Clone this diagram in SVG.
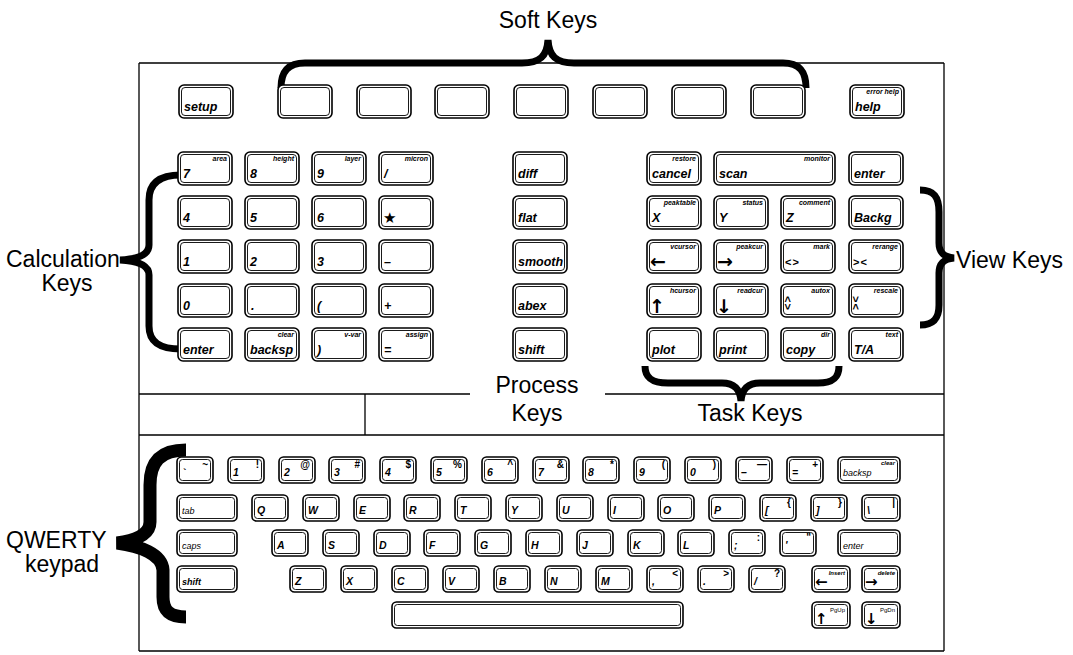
<svg xmlns="http://www.w3.org/2000/svg" xmlns:xlink="http://www.w3.org/1999/xlink" width="1073" height="655" viewBox="0 0 1073 655">
<style>
.o{fill:#fff;stroke:#000;stroke-width:1.6}
.i{fill:none;stroke:#000;stroke-width:0.9}
.fr{fill:none;stroke:#000;stroke-width:1.3}
.br{fill:none;stroke:#000;stroke-width:7;stroke-linecap:butt}
.brq{fill:none;stroke:#000;stroke-width:13;stroke-linecap:butt}
.lbl{font-family:'Liberation Sans',Arial,sans-serif;font-size:23px;fill:#000}
.m{font-family:'Liberation Sans Narrow','Liberation Sans',Arial,sans-serif;font-style:italic;font-weight:bold;font-size:12.5px;fill:#000}
.s{font-family:'Liberation Sans Narrow','Liberation Sans',Arial,sans-serif;font-style:italic;font-weight:bold;font-size:7px;text-anchor:end;fill:#000}
.ar{font-family:'DejaVu Sans',sans-serif;font-weight:bold;font-size:19px;fill:#000}
.ch{font-family:'Liberation Sans',Arial,sans-serif;font-weight:bold;font-size:11px;fill:#000}
.q{font-family:'Liberation Sans',Arial,sans-serif;font-style:italic;font-weight:bold;font-size:10.5px;fill:#000}
.qu{font-family:'Liberation Sans',Arial,sans-serif;font-weight:bold;font-size:10px;text-anchor:end;fill:#000}
.qw{font-family:'Liberation Sans',Arial,sans-serif;font-style:italic;font-size:9px;fill:#000}
.qwb{font-family:'Liberation Sans',Arial,sans-serif;font-style:italic;font-weight:bold;font-size:9px;fill:#000}
.qs{font-family:'Liberation Sans',Arial,sans-serif;font-style:italic;font-weight:bold;font-size:6px;text-anchor:end;fill:#000}
.qa{font-family:'DejaVu Sans',sans-serif;font-weight:bold;font-size:15px;fill:#000}
</style>
<defs>
<g id="kL"><rect class="o" x="0" y="0" width="54" height="33" rx="5"/><rect class="i" x="2.5" y="2.5" width="49" height="28" rx="3.5"/></g>
<g id="kS"><rect class="o" x="0" y="0" width="36" height="26" rx="4.5"/><rect class="i" x="2.5" y="2.5" width="31" height="21" rx="3"/></g>
<g id="kM"><rect class="o" x="0" y="0" width="38" height="26" rx="4.5"/><rect class="i" x="2.5" y="2.5" width="33" height="21" rx="3"/></g>
<g id="kW"><rect class="o" x="0" y="0" width="60" height="26" rx="4.5"/><rect class="i" x="2.5" y="2.5" width="55" height="21" rx="3"/></g>
<g id="kB"><rect class="o" x="0" y="0" width="62" height="26" rx="4.5"/><rect class="i" x="2.5" y="2.5" width="57" height="21" rx="3"/></g>
</defs>
<rect x="0" y="0" width="1073" height="655" fill="#fff"/>

<g id="frame">
<path class="fr" d="M139 63 H944 M139 63 V651 M944 63 V651 M139 651 H944 M139 394 H470 M605 394 H944 M139 435 H944 M365 394 V435"/>
</g>

<g id="connectors">
<path id="brace-soft" class="br" d="M281 88 C281 72 288 63 305 63 L522 63 C540 63 547 56 548 40 C549 56 556 63 574 63 L783 63 C800 63 806 72 806 88"/>
<path id="brace-calc" class="br" d="M181 175 C160 175 149 183 149 200 L149 245 C149 254 140 259 120 260 C140 261 149 266 149 275 L149 326 C149 342 160 349 181 349"/>
<path id="brace-view" class="br" d="M920 190 C934 190 939 197 939 212 L939 243 C939 253 944 257 954 258 C944 259 939 263 939 273 L939 305 C939 318 934 325 920 325"/>
<path id="brace-task" class="br" d="M645 366 C645 378 652 383 668 383 L722 383 C735 383 740 390 741 401 C742 390 747 383 760 383 L818 383 C833 383 839 378 839 366"/>
<path id="brace-qwerty" class="brq" d="M186 450 C160 450 150 462 150 485 L150 522 C150 533 138 540 117 543 C140 546 162 554 163 570 L163 597 C163 611 170 617 186 617"/>
</g>

<g id="labels">
<text class="lbl" x="548" y="28" text-anchor="middle">Soft Keys</text>
<text class="lbl" x="6" y="267">Calculation</text>
<text class="lbl" x="67" y="291" text-anchor="middle">Keys</text>
<text class="lbl" x="956" y="268">View Keys</text>
<text class="lbl" x="537" y="393" text-anchor="middle">Process</text>
<text class="lbl" x="537" y="421" text-anchor="middle">Keys</text>
<text class="lbl" x="750" y="421" text-anchor="middle">Task Keys</text>
<text class="lbl" x="6" y="548">QWERTY</text>
<text class="lbl" x="62" y="572" text-anchor="middle">keypad</text>
</g>

<g id="top-row">
<g id="key-setup"><use xlink:href="#kL" x="179" y="85"/><text class="m" x="184" y="111">setup</text></g>
<g id="soft-1"><use xlink:href="#kL" x="278" y="85"/></g>
<g id="soft-2"><use xlink:href="#kL" x="357" y="85"/></g>
<g id="soft-3"><use xlink:href="#kL" x="435" y="85"/></g>
<g id="soft-4"><use xlink:href="#kL" x="514" y="85"/></g>
<g id="soft-5"><use xlink:href="#kL" x="593" y="85"/></g>
<g id="soft-6"><use xlink:href="#kL" x="672" y="85"/></g>
<g id="soft-7"><use xlink:href="#kL" x="751" y="85"/></g>
<g id="key-help"><use xlink:href="#kL" x="850" y="85"/><text class="m" x="855" y="111">help</text><text class="s" x="899" y="93.5">error help</text></g>
</g>

<g id="calc-keys">
<g id="c-7"><use xlink:href="#kL" x="178" y="152"/><text class="m" x="183" y="178">7</text><text class="s" x="227" y="160.5">area</text></g>
<g id="c-8"><use xlink:href="#kL" x="245" y="152"/><text class="m" x="250" y="178">8</text><text class="s" x="294" y="160.5">height</text></g>
<g id="c-9"><use xlink:href="#kL" x="312" y="152"/><text class="m" x="317" y="178">9</text><text class="s" x="361" y="160.5">layer</text></g>
<g id="c-div"><use xlink:href="#kL" x="379" y="152"/><text class="m" x="384" y="178">/</text><text class="s" x="428" y="160.5">micron</text></g>
<g id="c-4"><use xlink:href="#kL" x="178" y="196"/><text class="m" x="183" y="222">4</text></g>
<g id="c-5"><use xlink:href="#kL" x="245" y="196"/><text class="m" x="250" y="222">5</text></g>
<g id="c-6"><use xlink:href="#kL" x="312" y="196"/><text class="m" x="317" y="222">6</text></g>
<g id="c-mul"><use xlink:href="#kL" x="379" y="196"/><text class="m" x="383" y="223" style="font-family:'DejaVu Sans',sans-serif;font-style:normal;font-size:15px">★</text></g>
<g id="c-1"><use xlink:href="#kL" x="178" y="240"/><text class="m" x="183" y="266">1</text></g>
<g id="c-2"><use xlink:href="#kL" x="245" y="240"/><text class="m" x="250" y="266">2</text></g>
<g id="c-3"><use xlink:href="#kL" x="312" y="240"/><text class="m" x="317" y="266">3</text></g>
<g id="c-minus"><use xlink:href="#kL" x="379" y="240"/><text class="m" x="384" y="266">–</text></g>
<g id="c-0"><use xlink:href="#kL" x="178" y="284"/><text class="m" x="183" y="310">0</text></g>
<g id="c-dot"><use xlink:href="#kL" x="245" y="284"/><text class="m" x="251" y="310">.</text></g>
<g id="c-lp"><use xlink:href="#kL" x="312" y="284"/><text class="m" x="317" y="310">(</text></g>
<g id="c-plus"><use xlink:href="#kL" x="379" y="284"/><text class="m" x="384" y="310">+</text></g>
<g id="c-enter"><use xlink:href="#kL" x="178" y="328"/><text class="m" x="183" y="354">enter</text></g>
<g id="c-backsp"><use xlink:href="#kL" x="245" y="328"/><text class="m" x="250" y="354">backsp</text><text class="s" x="294" y="336.5">clear</text></g>
<g id="c-rp"><use xlink:href="#kL" x="312" y="328"/><text class="m" x="317" y="354">)</text><text class="s" x="361" y="336.5">v-var</text></g>
<g id="c-eq"><use xlink:href="#kL" x="379" y="328"/><text class="m" x="384" y="354">=</text><text class="s" x="428" y="336.5">assign</text></g>
</g>

<g id="process-keys">
<g id="p-diff"><use xlink:href="#kL" x="513" y="152"/><text class="m" x="518" y="178">diff</text></g>
<g id="p-flat"><use xlink:href="#kL" x="513" y="196"/><text class="m" x="518" y="222">flat</text></g>
<g id="p-smooth"><use xlink:href="#kL" x="513" y="240"/><text class="m" x="518" y="266">smooth</text></g>
<g id="p-abex"><use xlink:href="#kL" x="513" y="284"/><text class="m" x="518" y="310">abex</text></g>
<g id="p-shift"><use xlink:href="#kL" x="513" y="328"/><text class="m" x="518" y="354">shift</text></g>
</g>

<g id="view-task-keys">
<g id="v-cancel"><use xlink:href="#kL" x="647" y="152"/><text class="m" x="652" y="178">cancel</text><text class="s" x="696" y="160.5">restore</text></g>
<g id="v-scan"><rect class="o" x="714" y="152" width="121" height="33" rx="5"/><rect class="i" x="716.5" y="154.5" width="116" height="28" rx="3.5"/><text class="m" x="719" y="178">scan</text><text class="s" x="830" y="160.5">monitor</text></g>
<g id="v-enter"><use xlink:href="#kL" x="849" y="152"/><text class="m" x="854" y="178">enter</text></g>
<g id="v-x"><use xlink:href="#kL" x="647" y="196"/><text class="m" x="652" y="222">X</text><text class="s" x="696" y="204.5">peaktable</text></g>
<g id="v-y"><use xlink:href="#kL" x="714" y="196"/><text class="m" x="719" y="222">Y</text><text class="s" x="763" y="204.5">status</text></g>
<g id="v-z"><use xlink:href="#kL" x="781" y="196"/><text class="m" x="786" y="222">Z</text><text class="s" x="830" y="204.5">comment</text></g>
<g id="v-backg"><use xlink:href="#kL" x="849" y="196"/><text class="m" x="854" y="222">Backg</text></g>
<g id="v-left"><use xlink:href="#kL" x="647" y="240"/><text class="ar" x="650" y="268">←</text><text class="s" x="696" y="248.5">vcursor</text></g>
<g id="v-right"><use xlink:href="#kL" x="714" y="240"/><text class="ar" x="717" y="268">→</text><text class="s" x="763" y="248.5">peakcur</text></g>
<g id="v-mark"><use xlink:href="#kL" x="781" y="240"/><text class="ch" x="785" y="266" letter-spacing="1">&lt;&gt;</text><text class="s" x="830" y="248.5">mark</text></g>
<g id="v-rerange"><use xlink:href="#kL" x="849" y="240"/><text class="ch" x="853" y="266" letter-spacing="1">&gt;&lt;</text><text class="s" x="898" y="248.5">rerange</text></g>
<g id="v-up"><use xlink:href="#kL" x="647" y="284"/><text class="ar" x="649" y="313">↑</text><text class="s" x="696" y="292.5">hcursor</text></g>
<g id="v-down"><use xlink:href="#kL" x="714" y="284"/><text class="ar" x="716" y="313">↓</text><text class="s" x="763" y="292.5">readcur</text></g>
<g id="v-autox"><use xlink:href="#kL" x="781" y="284"/><text class="ch" transform="translate(784,296) rotate(90)" letter-spacing="1">&lt;&gt;</text><text class="s" x="830" y="292.5">autox</text></g>
<g id="v-rescale"><use xlink:href="#kL" x="849" y="284"/><text class="ch" transform="translate(852,296) rotate(90)" letter-spacing="1">&gt;&lt;</text><text class="s" x="898" y="292.5">rescale</text></g>
<g id="t-plot"><use xlink:href="#kL" x="647" y="328"/><text class="m" x="652" y="354">plot</text></g>
<g id="t-print"><use xlink:href="#kL" x="714" y="328"/><text class="m" x="719" y="354">print</text></g>
<g id="t-copy"><use xlink:href="#kL" x="781" y="328"/><text class="m" x="786" y="354">copy</text><text class="s" x="830" y="336.5">dir</text></g>
<g id="v-ta"><use xlink:href="#kL" x="849" y="328"/><text class="m" x="854" y="354">T/A</text><text class="s" x="898" y="336.5">text</text></g>
</g>

<g id="qwerty-keys">
<g id="q-grave"><use xlink:href="#kS" x="177" y="457"/><text class="q" x="182" y="476">`</text><text class="qu" x="208" y="468">~</text></g>
<g id="q-1"><use xlink:href="#kS" x="228" y="457"/><text class="q" x="233" y="476">1</text><text class="qu" x="259" y="468">!</text></g>
<g id="q-2"><use xlink:href="#kS" x="279" y="457"/><text class="q" x="284" y="476">2</text><text class="qu" x="310" y="468">@</text></g>
<g id="q-3"><use xlink:href="#kS" x="329" y="457"/><text class="q" x="334" y="476">3</text><text class="qu" x="360" y="468">#</text></g>
<g id="q-4"><use xlink:href="#kS" x="380" y="457"/><text class="q" x="385" y="476">4</text><text class="qu" x="411" y="468">$</text></g>
<g id="q-5"><use xlink:href="#kS" x="431" y="457"/><text class="q" x="436" y="476">5</text><text class="qu" x="462" y="468">%</text></g>
<g id="q-6"><use xlink:href="#kS" x="482" y="457"/><text class="q" x="487" y="476">6</text><text class="qu" x="513" y="468">^</text></g>
<g id="q-7"><use xlink:href="#kS" x="533" y="457"/><text class="q" x="538" y="476">7</text><text class="qu" x="564" y="468">&amp;</text></g>
<g id="q-8"><use xlink:href="#kS" x="583" y="457"/><text class="q" x="588" y="476">8</text><text class="qu" x="614" y="468">*</text></g>
<g id="q-9"><use xlink:href="#kS" x="634" y="457"/><text class="q" x="639" y="476">9</text><text class="qu" x="665" y="468">(</text></g>
<g id="q-0"><use xlink:href="#kS" x="685" y="457"/><text class="q" x="690" y="476">0</text><text class="qu" x="716" y="468">)</text></g>
<g id="q-minus"><use xlink:href="#kS" x="736" y="457"/><text class="q" x="741" y="476">–</text><text class="qu" x="767" y="468">—</text></g>
<g id="q-eq"><use xlink:href="#kS" x="787" y="457"/><text class="q" x="792" y="476">=</text><text class="qu" x="818" y="468">+</text></g>
<g id="q-backsp"><use xlink:href="#kB" x="838" y="457"/><text class="qw" x="843" y="476">backsp</text><text class="qs" x="895" y="465">clear</text></g>

<g id="q-tab"><use xlink:href="#kW" x="177" y="495"/><text class="qw" x="182" y="514">tab</text></g>
<g id="q-Q"><use xlink:href="#kS" x="252" y="495"/><text class="q" x="257" y="514">Q</text></g>
<g id="q-W"><use xlink:href="#kS" x="303" y="495"/><text class="q" x="308" y="514">W</text></g>
<g id="q-E"><use xlink:href="#kS" x="354" y="495"/><text class="q" x="359" y="514">E</text></g>
<g id="q-R"><use xlink:href="#kS" x="404" y="495"/><text class="q" x="409" y="514">R</text></g>
<g id="q-T"><use xlink:href="#kS" x="455" y="495"/><text class="q" x="460" y="514">T</text></g>
<g id="q-Y"><use xlink:href="#kS" x="506" y="495"/><text class="q" x="511" y="514">Y</text></g>
<g id="q-U"><use xlink:href="#kS" x="557" y="495"/><text class="q" x="562" y="514">U</text></g>
<g id="q-I"><use xlink:href="#kS" x="608" y="495"/><text class="q" x="613" y="514">I</text></g>
<g id="q-O"><use xlink:href="#kS" x="658" y="495"/><text class="q" x="663" y="514">O</text></g>
<g id="q-P"><use xlink:href="#kS" x="709" y="495"/><text class="q" x="714" y="514">P</text></g>
<g id="q-lb"><use xlink:href="#kS" x="760" y="495"/><text class="q" x="765" y="514">[</text><text class="qu" x="791" y="506">{</text></g>
<g id="q-rb"><use xlink:href="#kS" x="811" y="495"/><text class="q" x="816" y="514">]</text><text class="qu" x="842" y="506">}</text></g>
<g id="q-bs"><use xlink:href="#kM" x="862" y="495"/><text class="q" x="867" y="514">\</text><text class="qu" x="895" y="506">|</text></g>

<g id="q-caps"><use xlink:href="#kW" x="177" y="530"/><text class="qw" x="182" y="549">caps</text></g>
<g id="q-A"><use xlink:href="#kS" x="272" y="530"/><text class="q" x="277" y="549">A</text></g>
<g id="q-S"><use xlink:href="#kS" x="323" y="530"/><text class="q" x="328" y="549">S</text></g>
<g id="q-D"><use xlink:href="#kS" x="374" y="530"/><text class="q" x="379" y="549">D</text></g>
<g id="q-F"><use xlink:href="#kS" x="424" y="530"/><text class="q" x="429" y="549">F</text></g>
<g id="q-G"><use xlink:href="#kS" x="475" y="530"/><text class="q" x="480" y="549">G</text></g>
<g id="q-H"><use xlink:href="#kS" x="526" y="530"/><text class="q" x="531" y="549">H</text></g>
<g id="q-J"><use xlink:href="#kS" x="577" y="530"/><text class="q" x="582" y="549">J</text></g>
<g id="q-K"><use xlink:href="#kS" x="628" y="530"/><text class="q" x="633" y="549">K</text></g>
<g id="q-L"><use xlink:href="#kS" x="678" y="530"/><text class="q" x="683" y="549">L</text></g>
<g id="q-semi"><use xlink:href="#kS" x="729" y="530"/><text class="q" x="734" y="549">;</text><text class="qu" x="760" y="541">:</text></g>
<g id="q-quote"><use xlink:href="#kS" x="780" y="530"/><text class="q" x="785" y="549">'</text><text class="qu" x="811" y="541">"</text></g>
<g id="q-enter"><use xlink:href="#kB" x="838" y="530"/><text class="qw" x="843" y="549">enter</text></g>

<g id="q-shift"><use xlink:href="#kW" x="177" y="566"/><text class="qwb" x="182" y="585">shift</text></g>
<g id="q-Z"><use xlink:href="#kS" x="290" y="566"/><text class="q" x="295" y="585">Z</text></g>
<g id="q-X"><use xlink:href="#kS" x="341" y="566"/><text class="q" x="346" y="585">X</text></g>
<g id="q-C"><use xlink:href="#kS" x="392" y="566"/><text class="q" x="397" y="585">C</text></g>
<g id="q-V"><use xlink:href="#kS" x="443" y="566"/><text class="q" x="448" y="585">V</text></g>
<g id="q-B"><use xlink:href="#kS" x="494" y="566"/><text class="q" x="499" y="585">B</text></g>
<g id="q-N"><use xlink:href="#kS" x="545" y="566"/><text class="q" x="550" y="585">N</text></g>
<g id="q-M"><use xlink:href="#kS" x="596" y="566"/><text class="q" x="601" y="585">M</text></g>
<g id="q-comma"><use xlink:href="#kS" x="647" y="566"/><text class="q" x="652" y="585">,</text><text class="qu" x="678" y="577">&lt;</text></g>
<g id="q-period"><use xlink:href="#kS" x="698" y="566"/><text class="q" x="703" y="585">.</text><text class="qu" x="729" y="577">&gt;</text></g>
<g id="q-slash"><use xlink:href="#kS" x="749" y="566"/><text class="q" x="754" y="585">/</text><text class="qu" x="780" y="577">?</text></g>
<g id="q-insert"><use xlink:href="#kM" x="812" y="566"/><text class="qa" x="815" y="587">←</text><text class="qs" x="845" y="575">Insert</text></g>
<g id="q-delete"><use xlink:href="#kM" x="862" y="566"/><text class="qa" x="865" y="587">→</text><text class="qs" x="895" y="575">delete</text></g>

<g id="q-space"><rect class="o" x="392" y="602" width="291" height="26" rx="4.5"/><rect class="i" x="394.5" y="604.5" width="286" height="21" rx="3"/></g>
<g id="q-pgup"><use xlink:href="#kM" x="812" y="602"/><text class="qa" x="815" y="624">↑</text><text class="qs" x="845" y="612" style="font-weight:normal;font-style:normal">PgUp</text></g>
<g id="q-pgdn"><use xlink:href="#kM" x="862" y="602"/><text class="qa" x="865" y="624">↓</text><text class="qs" x="895" y="612" style="font-weight:normal;font-style:normal">PgDn</text></g>
</g>
</svg>
